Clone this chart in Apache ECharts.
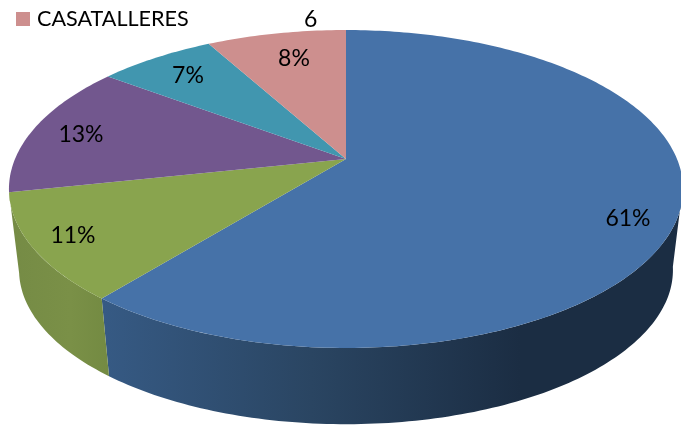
<!DOCTYPE html>
<html><head><meta charset="utf-8">
<style>html,body{margin:0;padding:0;background:#fff}#c{width:681px;height:425px}</style>
<script src="https://cdn.jsdelivr.net/npm/echarts@6/dist/echarts.min.js"></script>
</head><body><div id="c"></div>
<script>
var categories = ['Categoría 1','Categoría 2','Categoría 3','Categoría 4','CASATALLERES'];
var values = [46, 8, 10, 5, 6];
var sliceColors = ['#4672a8','#89a44e','#72578e','#4196af','#cd8f8e'];
var labelAnchors = [[628,219],[73,236],[81,135],[188,76],[294,59]];
var legendName = ['CASATALLERES'];

var FONT = 'Lato, Carlito, sans-serif', FS = 23, LEGEND_FS = 21.6;
var total = values.reduce(function(a,b){return a+b;},0);
var APEX_X=346, APEX_Y=159, RX=331, RY=153.3, K=0.1887;
var EC_Y=189, LOW_Y=270, LOW_S=0.97, WARP=2*Math.PI/180;

// Projects a slice angle onto the tilted rim (3D perspective of the pie).
function rimPoint(angle){
  var theta=angle-WARP*(1-Math.cos(angle))/2;
  var u=Math.sin(theta), v=Math.cos(theta), d=1+K*v;
  return [APEX_X+RX*u/d, APEX_Y-RY*v/d];
}
function lowPoint(p){ return [APEX_X+(p[0]-APEX_X)*LOW_S, LOW_Y+(p[1]-EC_Y)*LOW_S]; }
function extremes(){ var a=Math.acos(-K); return [a, 2*Math.PI-a]; }

function wallFill(i){
  if(i===0) return new echarts.graphic.LinearGradient(103,0,520,0,[
    {offset:0,color:'#365a84'},{offset:0.5,color:'#2a4562'},{offset:1,color:'#1b2d43'}],true);
  return new echarts.graphic.LinearGradient(10,0,110,0,[
    {offset:0,color:'#758b45'},{offset:0.6,color:'#7a9047'},{offset:1,color:'#738a42'}],true);
}

function makeRender(i){
  return function(params, api){
    var val=api.value(0), before=0;
    for(var j=0;j<i;j++) before+=values[j];
    var a0=before/total*2*Math.PI, a1=(before+val)/total*2*Math.PI;
    var children=[];
    var ex=extremes();
    var w0=Math.max(a0,ex[0]), w1=Math.min(a1,ex[1]);
    if(w1>w0){
      var upper=[], lower=[], n=Math.ceil((w1-w0)*180/Math.PI);
      for(var s=0;s<=n;s++){
        var p=rimPoint(w0+(w1-w0)*s/n);
        upper.push(p); lower.unshift(lowPoint(p));
      }
      children.push({type:'polygon',shape:{points:upper.concat(lower)},
        style:{fill:wallFill(i)}});
    }
    var pts=[[APEX_X,APEX_Y]], m=Math.ceil((a1-a0)*180/Math.PI);
    for(var t=0;t<=m;t++) pts.push(rimPoint(a0+(a1-a0)*t/m));
    children.push({type:'polygon',shape:{points:pts},style:{fill:sliceColors[i]},z2:5});
    children.push({type:'text',x:labelAnchors[i][0],y:labelAnchors[i][1],z2:10,
      style:{text:Math.round(val/total*100)+'%',fill:'#000',font:FS+'px '+FONT,align:'center',verticalAlign:'middle'}});
    return {type:'group',children:children};
  };
}

var series=categories.map(function(name,i){
  return {type:'custom',name:name,coordinateSystem:'none',silent:true,animation:false,
    itemStyle:{color:sliceColors[i]},data:[[values[i]]],renderItem:makeRender(i)};
});

var chart=echarts.init(document.getElementById('c'),null,{renderer:'canvas'});
chart.setOption({
  animation:false,
  backgroundColor:'#fff',
  legend:{data:legendName,left:16,top:8,padding:0,icon:'rect',itemWidth:14,itemHeight:14,itemGap:0,
    selectedMode:false,textStyle:{fontFamily:FONT,fontSize:LEGEND_FS,color:'#000',padding:[0,0,0,2]}},
  graphic:[{type:'text',x:304,y:8,style:{text:String(values[4]),font:FS+'px '+FONT,fill:'#000'}}],
  series:series
});
</script></body></html>
